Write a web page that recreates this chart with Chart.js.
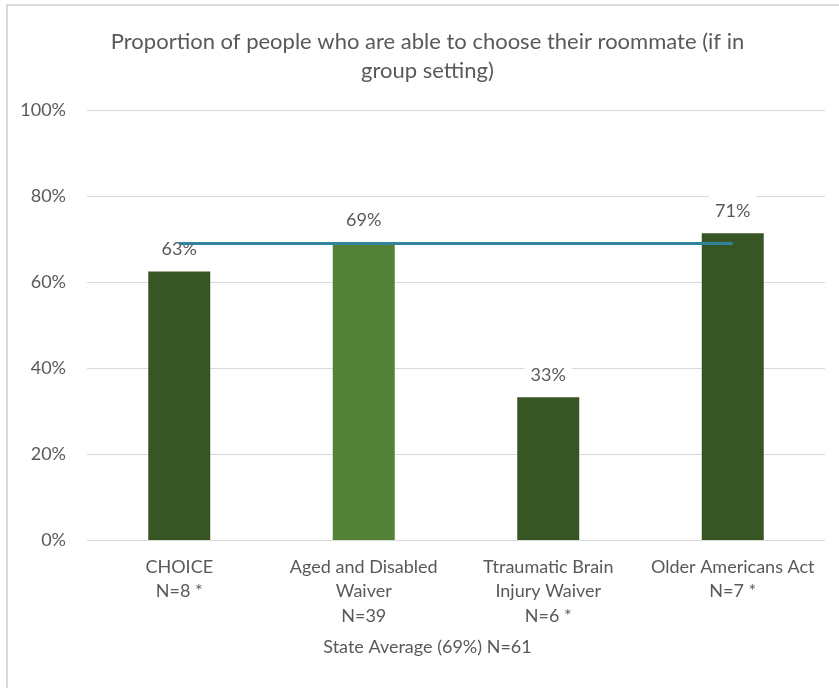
<!DOCTYPE html>
<html>
<head>
<meta charset="utf-8">
<script src="https://cdn.jsdelivr.net/npm/chart.js@4.4.0/dist/chart.umd.min.js"></script>
<style>
  html, body { margin: 0; padding: 0; background: #fff; }
  #wrap { width: 839px; height: 688px; }
</style>
</head>
<body>
<div id="wrap"><canvas id="myChart" width="839" height="688"></canvas></div>
<script>
// chart values
const categories = [
  ['CHOICE', 'N=8 *'],
  ['Aged and Disabled', 'Waiver', 'N=39'],
  ['Ttraumatic Brain', 'Injury Waiver', 'N=6 *'],
  ['Older Americans Act', 'N=7 *']
];
const percentages = [62.5, 69.2, 33.3, 71.4];
const stateAverage = [69, 69, 69, 69];
const barColors = ['#375623', '#538135', '#375623', '#375623'];
const yTickValues = [0, 20, 40, 60, 80, 100];

const textColor = '#595959';

// light frame round the chart (top and left edges only show)
const frame = {
  id: 'frame',
  beforeDraw(chart) {
    const ctx = chart.ctx;
    ctx.save();
    ctx.strokeStyle = '#d9d9d9';
    ctx.lineWidth = 2;
    ctx.beginPath();
    ctx.moveTo(7, 700);
    ctx.lineTo(7, 5);
    ctx.lineTo(845, 5);
    ctx.stroke();
    ctx.restore();
  }
};

// value labels above the bars, drawn before the average line
const barLabels = {
  id: 'barLabels',
  afterDatasetDraw(chart, args) {
    if (args.index !== 0) return;
    const ctx = chart.ctx;
    ctx.save();
    ctx.font = '18px Lato';
    ctx.textAlign = 'center';
    ctx.textBaseline = 'middle';
    args.meta.data.forEach((bar, i) => {
      const txt = Math.round(percentages[i]) + '%';
      const w = ctx.measureText(txt).width;
      ctx.fillStyle = '#fff';
      ctx.fillRect(bar.x - w / 2 - 6, bar.y - 22 - 16, w + 12, 32);
      ctx.fillStyle = textColor;
      ctx.fillText(txt, bar.x, bar.y - 22);
    });
    ctx.restore();
  }
};

const ctx = document.getElementById('myChart').getContext('2d');
new Chart(ctx, {
  type: 'bar',
  data: {
    labels: categories,
    datasets: [
      {
        type: 'bar',
        data: percentages,
        backgroundColor: barColors,
        categoryPercentage: 1,
        barPercentage: 0.336,
        order: 1
      },
      {
        type: 'line',
        data: stateAverage,
        borderColor: '#31849B',
        borderWidth: 3,
        pointRadius: 0,
        fill: false,
        order: 0
      }
    ]
  },
  options: {
    responsive: false,
    animation: false,
    layout: { padding: { top: 0, left: 16, right: 0, bottom: 29 } },
    plugins: {
      legend: { display: false },
      tooltip: { enabled: false },
      title: {
        display: true,
        text: ['Proportion of people who are able to choose their roommate (if in', 'group setting)'],
        color: textColor,
        font: { family: 'Lato', size: 22, weight: 'normal', lineHeight: 1.32 },
        padding: { top: 27.5, bottom: 24.5 }
      },
      subtitle: {
        display: true,
        position: 'bottom',
        text: 'State Average (69%) N=61',
        color: textColor,
        font: { family: 'Lato', size: 18, weight: 'normal', lineHeight: 1.36 },
        padding: { top: 6.5, bottom: 0 }
      }
    },
    scales: {
      x: {
        afterFit(scale) { scale.height = 87.5; },
        grid: { display: false, drawTicks: false },
        border: { display: false },
        ticks: {
          color: textColor,
          font: { family: 'Lato', size: 18, lineHeight: 1.36 },
          padding: 14,
          maxRotation: 0,
          autoSkip: false
        }
      },
      y: {
        min: 0,
        max: 100,
        afterFit(scale) { scale.width = 71; },
        afterBuildTicks(scale) { scale.ticks = yTickValues.map(v => ({ value: v })); },
        grid: { color: '#d9d9d9', lineWidth: 1, drawTicks: false },
        border: { display: false },
        ticks: {
          color: textColor,
          font: { family: 'Lato', size: 18 },
          padding: 21,
          callback: v => v + '%'
        }
      },
      yRight: {
        position: 'right',
        afterFit(scale) { scale.width = 14; },
        grid: { display: false },
        border: { display: false },
        ticks: { display: false }
      }
    }
  },
  plugins: [frame, barLabels]
});
</script>
</body>
</html>
